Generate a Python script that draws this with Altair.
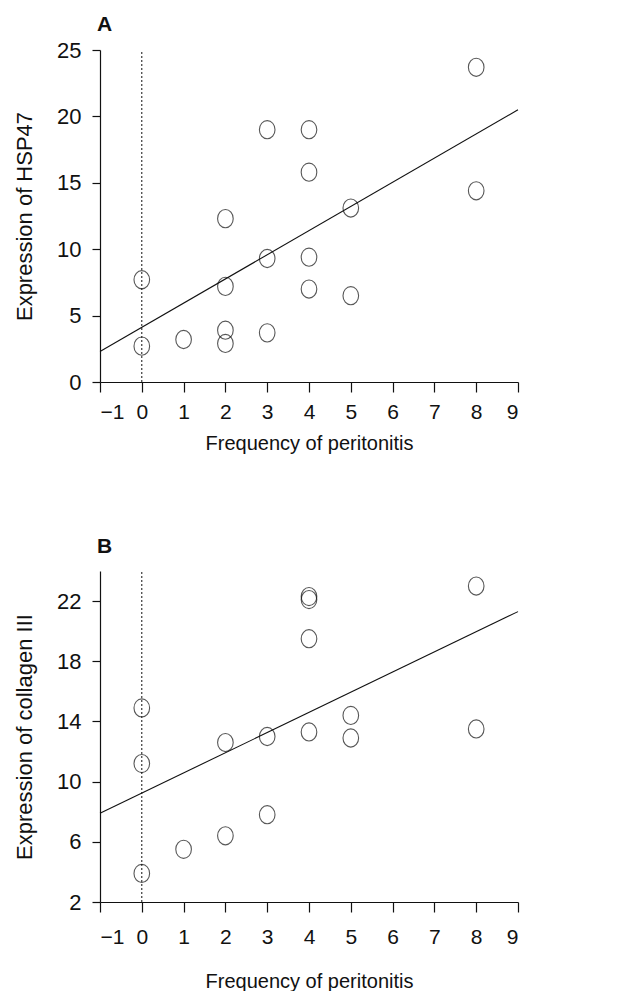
import altair as alt
import pandas as pd

# Panel A: HSP47
a_x = [0, 0, 1, 2, 2, 2, 2, 3, 3, 3, 4, 4, 4, 4, 5, 5, 8, 8]
a_y = [7.7, 2.7, 3.2, 12.3, 7.2, 3.9, 2.9, 19.0, 9.3, 3.7, 19.0, 15.8, 9.4, 7.0, 13.1, 6.5, 23.7, 14.4]
a_fit_x = [-1, 9]
a_fit_y = [2.3, 20.5]

# Panel B: collagen III
b_x = [0, 0, 0, 1, 2, 2, 3, 3, 4, 4, 4, 4, 5, 5, 8, 8]
b_y = [14.9, 11.2, 3.9, 5.5, 12.6, 6.4, 13.0, 7.8, 22.3, 22.1, 19.5, 13.3, 14.4, 12.9, 23.0, 13.5]
b_fit_x = [-1, 9]
b_fit_y = [7.9, 21.3]

x_ticks = list(range(-1, 10))
a_yticks = [0, 2.5, 5, 7.5, 10, 12.5, 15, 17.5, 20, 22.5, 25]
b_yticks = [2, 4, 6, 8, 10, 12, 14, 16, 18, 20, 22, 24]

FONT = "Liberation Sans, Arial"
W = 418
INK = "#111"
ELLIPSE = "M0,-1A0.86,1,0,1,1,0,1A0.86,1,0,1,1,0,-1Z"


def panel(xs, ys, fx, fy, ydom, yticks, label_expr, ytitle, letter, h,
          lab_pad, title_pad, letter_offset):
    pts = pd.DataFrame({"x": xs, "y": ys})
    fit = pd.DataFrame({"x": fx, "y": fy})
    ref = pd.DataFrame({"x": [0, 0], "y": ydom})
    xs_ = alt.Scale(domain=[-1, 9], nice=False, zero=False)
    ys_ = alt.Scale(domain=ydom, nice=False, zero=False)
    xax = alt.Axis(values=x_ticks, title="Frequency of peritonitis", format="d",
                   grid=False, tickSize=10, labelPadding=lab_pad, titlePadding=title_pad,
                   labelFont=FONT, titleFont=FONT, labelFontSize=21, titleFontSize=20)
    yax = alt.Axis(values=yticks, title=ytitle, labelExpr=label_expr,
                   grid=False, tickSize=8, labelPadding=11,
                   labelFont=FONT, titleFont=FONT, labelFontSize=22, titleFontSize=22,
                   titleX=-76, titleY=h / 2, titleBaseline="middle", titleAlign="center",
                   titleAngle=270)
    base_pts = alt.Chart(pts).mark_point(
        shape=ELLIPSE, filled=False, size=330, stroke=INK, strokeWidth=1.1
    ).encode(x=alt.X("x:Q", scale=xs_, axis=xax), y=alt.Y("y:Q", scale=ys_, axis=yax))
    line = alt.Chart(fit).mark_line(color=INK, strokeWidth=1.1).encode(
        x=alt.X("x:Q", scale=xs_), y=alt.Y("y:Q", scale=ys_))
    rule = alt.Chart(ref).mark_line(color=INK, strokeWidth=1, strokeDash=[2, 2]).encode(
        x=alt.X("x:Q", scale=xs_), y=alt.Y("y:Q", scale=ys_))
    return alt.layer(rule, line, base_pts).properties(
        width=W, height=h,
        title=alt.TitleParams(letter, anchor="start", fontSize=21, fontWeight="bold",
                              font=FONT, offset=letter_offset, dx=-3, frame="group",
                              color=INK)
    )


top = panel(a_x, a_y, a_fit_x, a_fit_y, [0, 25], a_yticks,
            "datum.value % 5 == 0 ? datum.label : ''", "Expression of HSP47", "A", 332,
            9, 11, 4)
bot = panel(b_x, b_y, b_fit_x, b_fit_y, [2, 24], b_yticks,
            "(datum.value - 2) % 4 == 0 ? datum.label : ''", "Expression of collagen III", "B",
            331, 14, 24, 12)

chart = alt.vconcat(top, bot, spacing=83).configure_view(stroke=None).configure_axis(
    labelColor=INK, titleColor=INK, domainColor=INK, tickColor=INK,
    titleFontWeight="normal", domainWidth=1.2, tickWidth=1.2
).properties(padding={"left": 5, "top": 6, "right": 0, "bottom": 0})

chart.save("out.html", embed_options={"renderer": "svg", "actions": False})
